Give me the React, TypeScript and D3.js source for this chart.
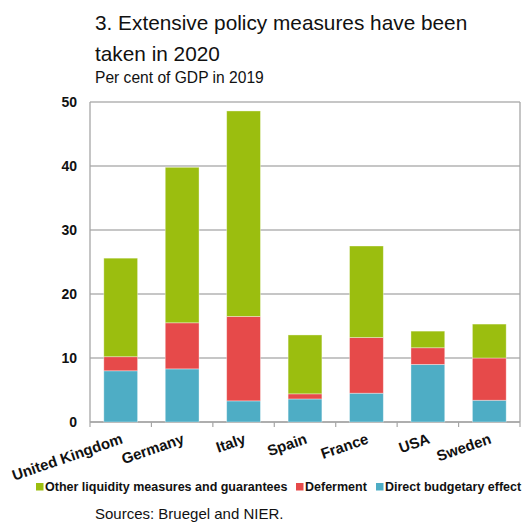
import React from "react";
import * as d3 from "d3";

const categories = ["United Kingdom", "Germany", "Italy", "Spain", "France", "USA", "Sweden"];
const direct = [8.0, 8.3, 3.3, 3.6, 4.5, 9.0, 3.4];
const deferment = [2.2, 7.2, 13.2, 0.8, 8.7, 2.6, 6.6];
const other = [15.4, 24.3, 32.1, 9.2, 14.3, 2.6, 5.3];
const yTicks = [0, 10, 20, 30, 40, 50];
const seriesNames = ["Direct budgetary effect", "Deferment", "Other liquidity measures and guarantees"];
const seriesColors = ["#4eadc5", "#e64a4a", "#9bbe0f"];
const legendOrder = [2, 1, 0];

export default function App() {
  const W = 532, H = 524;
  const left = 90, right = 520, top = 102, bottom = 422;
  const x = d3.scaleBand<string>().domain(categories).range([left, right]).paddingInner(0.45).paddingOuter(0.225);
  const y = d3.scaleLinear().domain([0, 50]).range([bottom, top]);
  const rows = categories.map((c, i) => ({ cat: c, s0: direct[i], s1: deferment[i], s2: other[i] }));
  const stack = d3.stack<any>().keys(["s0", "s1", "s2"]);
  const layers = stack(rows);
  const font = "Liberation Sans, Arial, sans-serif";
  const step = (right - left) / categories.length;
  const legendX = [45, 305, 385];
  return (
    <svg width={W} height={H} style={{ position: "absolute", left: 0, top: 0, background: "#fff" }} fontFamily={font}>
      <text x={95} y={30} fontSize={20.8} fill="#111">3. Extensive policy measures have been</text>
      <text x={95} y={61} fontSize={20.8} fill="#111">taken in 2020</text>
      <text x={95} y={83} fontSize={15.6} fill="#111">Per cent of GDP in 2019</text>
      {yTicks.map(t => (
        <g key={t}>
          <line x1={left} x2={right} y1={y(t)} y2={y(t)} stroke="#b3b3b3" strokeWidth={1.3} />
          <text x={77} y={y(t) + 5} textAnchor="end" fontSize={14} fontWeight="bold" fill="#111">{t}</text>
        </g>
      ))}
      <line x1={left} x2={left} y1={top} y2={bottom} stroke="#a6a6a6" strokeWidth={1.3} />
      <line x1={right} x2={right} y1={top} y2={bottom} stroke="#a6a6a6" strokeWidth={1.3} />
      <line x1={left} x2={right} y1={bottom} y2={bottom} stroke="#a6a6a6" strokeWidth={1.5} />
      {categories.map((c, i) => (
        <line key={c} x1={left + step * (i + 1)} x2={left + step * (i + 1)} y1={bottom} y2={bottom + 5} stroke="#a6a6a6" strokeWidth={1.2} />
      ))}
      <line x1={left} x2={left} y1={bottom} y2={bottom + 5} stroke="#a6a6a6" strokeWidth={1.2} />
      {layers.map((layer, li) => (
        <g key={li} fill={seriesColors[li]}>
          {layer.map((d, i) => (
            <rect key={i} x={x(categories[i])} width={x.bandwidth()} y={y(d[1])} height={y(d[0]) - y(d[1])} stroke="#ffffff" strokeOpacity={0.45} strokeWidth={0.8} />
          ))}
        </g>
      ))}
      {categories.map(c => {
        const cx = (x(c) as number) + x.bandwidth() / 2 + 3;
        const cy = bottom + 21;
        return (
          <text key={c} transform={`translate(${cx},${cy}) rotate(-19)`} textAnchor="end" fontSize={15} fontWeight="bold" fill="#111">{c}</text>
        );
      })}
      {legendOrder.map((si, k) => (
        <g key={si}>
          <rect x={legendX[k] - 9} y={483} width={7.5} height={7.5} fill={seriesColors[si]} />
          <text x={legendX[k]} y={491} fontSize={12.5} fontWeight="bold" fill="#111">{seriesNames[si]}</text>
        </g>
      ))}
      <text x={95} y={519} fontSize={15} fill="#111">Sources: Bruegel and NIER.</text>
    </svg>
  );
}
